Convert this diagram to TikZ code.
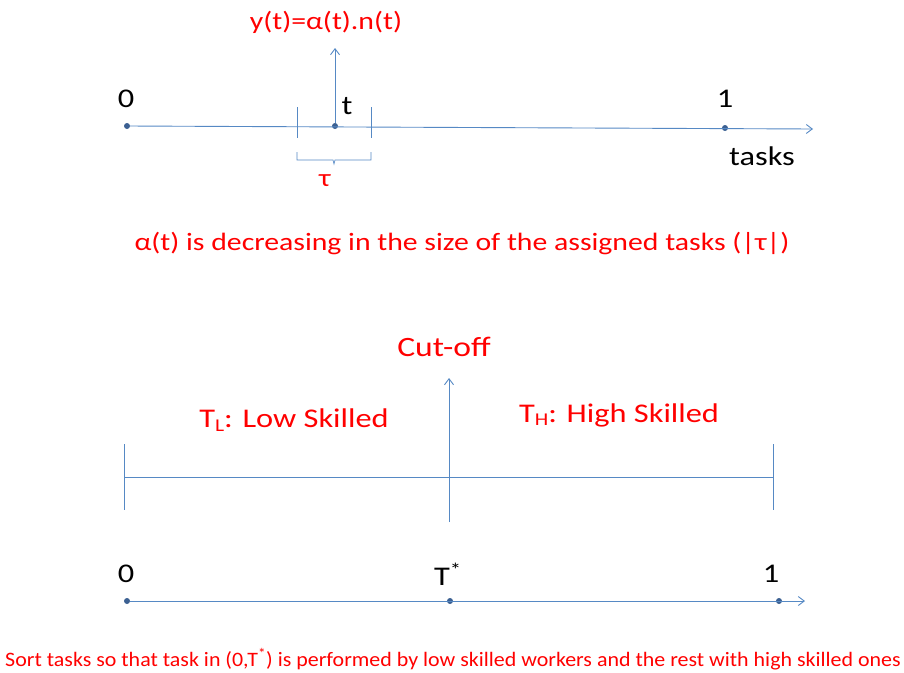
\documentclass[tikz,border=0pt]{standalone}
\usepackage{fontspec}
\setmainfont{Carlito}
\usetikzlibrary{arrows.meta}
\definecolor{lineblue}{RGB}{86,137,196}
\definecolor{dotblue}{RGB}{60,96,146}
\definecolor{txtred}{RGB}{255,0,0}
\newcommand{\stretchtxt}[2][1.2]{\scalebox{#1}[1]{#2}}
\newcommand{\lowsub}[1]{\raisebox{-0.3ex}{\fontsize{18}{20}\selectfont #1}}
\begin{document}
\begin{tikzpicture}[x=1pt,y=-1pt,
  axis/.style={draw=lineblue,line width=0.9pt},
  axarrow/.style={axis,-{Straight Barb[length=6pt,width=9pt]}},
  dot/.style={circle,fill=dotblue,inner sep=0pt,minimum size=6pt},
  blk/.style={text=black,font=\fontsize{27}{29}\selectfont,inner sep=0pt},
  red/.style={text=txtred,font=\fontsize{25}{27}\selectfont,inner sep=0pt}]
\useasboundingbox (0,0) rectangle (904,672);
% ---- top
\node[dot] (z0) at (127,126) {};
\node[dot] (o1) at (725,128) {};
\node[dot] (tt) at (335,126) {};
\coordinate (tend) at (813,129);
\draw[axarrow] (z0) -- (tend);
\node[blk] (l0) at (126,99) {\stretchtxt{0}};
\node[blk] (l1) at (725,99) {\stretchtxt{1}};
\node[blk] (ltasks) at (762,156) {\stretchtxt{tasks}};
\node[blk] (lt) at (347,106) {\stretchtxt{t}};
\coordinate (tk1a) at (297,107); \coordinate (tk1b) at (297,138);
\coordinate (tk2a) at (371,107); \coordinate (tk2b) at (371,138);
\draw[axis] (tk1a) -- (tk1b);
\draw[axis] (tk2a) -- (tk2b);
\coordinate (ytop) at (335,48);
\draw[axarrow] (tt) -- (ytop);
\node[red] (yeq) at (326,22) {\stretchtxt[1.19]{y(t)=α(t).n(t)}};
\draw[axis,line width=0.7pt] (297,152) -- (297,160) -- (333,160) -- (334,164) -- (335,160) -- (371,160) -- (371,152);
\node[red] (tau) at (325,181) {\stretchtxt[1.19]{τ}};
\node[red] (alpha) at (462,244) {\stretchtxt[1.19]{α(t) is decreasing in the size of the assigned tasks (|τ|)}};
% ---- middle
\coordinate (cutb) at (449,522);
\coordinate (cutt) at (449,378);
\draw[axarrow] (cutb) -- (cutt);
\node[red,font=\fontsize{28}{30}\selectfont] (cut) at (444,347) {\stretchtxt{Cut-off}};
\coordinate (hl) at (124,477); \coordinate (hr) at (773,477);
\draw[axis] (hl) -- (hr);
\draw[axis] (124,444) -- (124,510);
\draw[axis] (773,444) -- (773,510);
\node[red,font=\fontsize{27}{29}\selectfont] (tl) at (294,420) {\stretchtxt{T\lowsub{L}: Low Skilled}};
\node[red,font=\fontsize{27}{29}\selectfont] (th) at (619,415) {\stretchtxt{T\lowsub{H}: High Skilled}};
% ---- bottom
\node[dot] (b0) at (127,601) {};
\node[dot] (bt) at (450,601) {};
\node[dot] (b1) at (779,601) {};
\coordinate (bend) at (805,601);
\draw[axarrow] (b0) -- (bend);
\node[blk] (bl0) at (126,574) {\stretchtxt{0}};
\node[blk] (blt) at (448,574) {\stretchtxt{T\textsuperscript{*}}};
\node[blk] (bl1) at (771,574) {\stretchtxt{1}};
\node[red,font=\fontsize{20.5}{22}\selectfont] (sort) at (453,659) {\stretchtxt[1.07]{Sort tasks so that task in (0,T\textsuperscript{*}) is performed by low skilled workers and the rest with high skilled ones}};
\end{tikzpicture}
\end{document}
